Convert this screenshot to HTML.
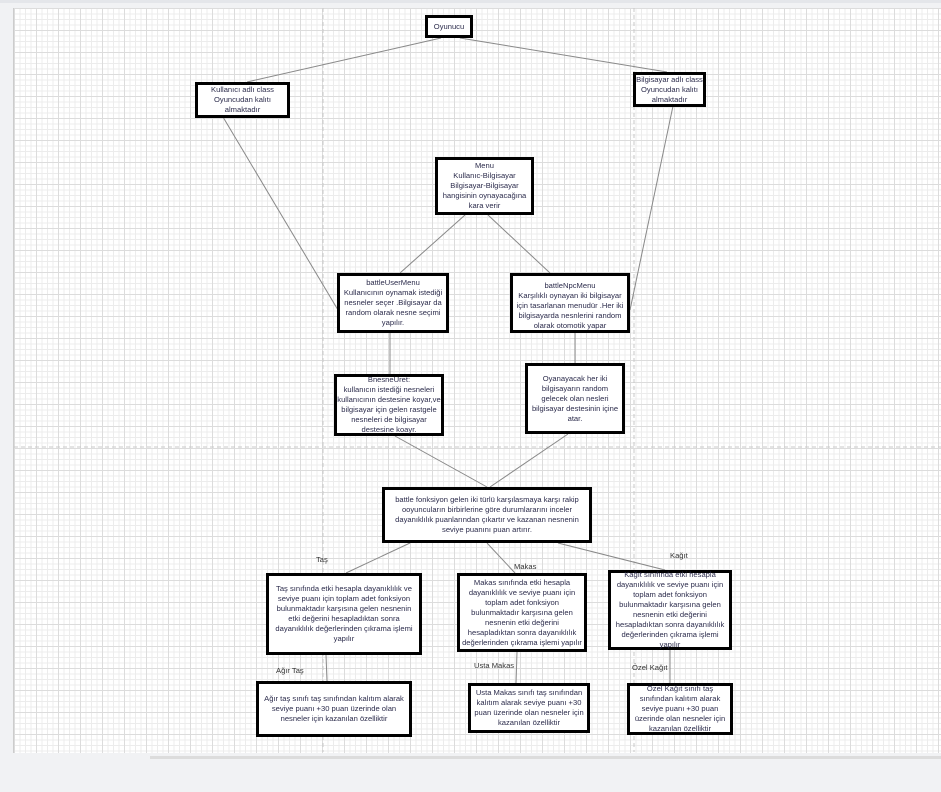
<!DOCTYPE html>
<html><head><meta charset="utf-8"><style>
html,body{margin:0;padding:0;width:941px;height:792px;overflow:hidden;background:#f1f2f4;font-family:"Liberation Sans",sans-serif}
#c{position:absolute;left:13px;top:8px;width:928px;height:745px;background-color:#fff;
background-image:linear-gradient(#dcdcdc 1px,transparent 1px),linear-gradient(90deg,#dcdcdc 1px,transparent 1px),linear-gradient(#ececec 1px,transparent 1px),linear-gradient(90deg,#ececec 1px,transparent 1px);
background-size:22px 22px,22px 22px,5.5px 5.5px,5.5px 5.5px;border-left:1px solid #ccc}
.b{position:absolute;box-sizing:border-box;border:3px solid #000;background:#fff;display:flex;align-items:center;justify-content:center;text-align:center;font-size:7.6px;line-height:10px;color:#2c2c4c;white-space:nowrap}
.l{position:absolute;font-size:7.6px;color:#333}
svg{position:absolute;left:0;top:0}
#sb{position:absolute;left:150px;top:756px;width:791px;height:3px;background:#dcdcdc}
#tb{position:absolute;left:0;top:0;width:941px;height:3px;background:#e4e6ea}
</style></head><body>
<div id="tb"></div>
<div id="c"></div>
<div id="sb"></div>
<svg width="941" height="792">
<g stroke="#c8c8c8" stroke-dasharray="4,3" stroke-width="1">
<line x1="323" y1="8" x2="323" y2="752"/><line x1="634" y1="8" x2="634" y2="752"/><line x1="14" y1="447" x2="941" y2="447"/>
</g>
<g stroke="#888" stroke-width="1">
<line x1="441" y1="38" x2="247" y2="82"/><line x1="460" y1="38" x2="667" y2="72"/>
<line x1="223" y1="117" x2="338" y2="310"/><line x1="673" y1="106" x2="630" y2="310"/>
<line x1="465" y1="215" x2="400" y2="273"/><line x1="488" y1="215" x2="550" y2="273"/>
<line x1="390" y1="333" x2="390" y2="374"/><line x1="575" y1="333" x2="575" y2="363"/>
<line x1="395" y1="436" x2="487" y2="487"/><line x1="568" y1="434" x2="490" y2="487"/>
<line x1="410" y1="543" x2="346" y2="573"/><line x1="487" y1="543" x2="515" y2="573"/>
<line x1="558" y1="543" x2="665" y2="570"/>
<line x1="326" y1="655" x2="327" y2="681"/><line x1="517" y1="652" x2="516" y2="683"/><line x1="670" y1="650" x2="670" y2="683"/>
</g></svg>
<div class="b" style="left:425px;top:15px;width:48px;height:23px">Oyunucu</div>
<div class="b" style="left:195px;top:82px;width:95px;height:36px">Kullanıcı adlı class<br>Oyuncudan kalıtı<br>almaktadır</div>
<div class="b" style="left:633px;top:72px;width:73px;height:35px">Bilgisayar adlı class<br>Oyuncudan kalıtı<br>almaktadır</div>
<div class="b" style="left:435px;top:157px;width:99px;height:58px">Menu<br>Kullanıc-Bilgisayar<br>Bilgisayar-Bilgisayar<br>hangisinin oynayacağına<br>kara verir</div>
<div class="b" style="left:337px;top:273px;width:112px;height:60px">battleUserMenu<br>Kullanıcının oynamak istediği<br>nesneler seçer .Bilgisayar da<br>random olarak nesne seçimi<br>yapılır.</div>
<div class="b" style="left:510px;top:273px;width:120px;height:60px;align-items:flex-start;padding-top:5px">battleNpcMenu<br>Karşılıklı oynayan iki bilgisayar<br>için tasarlanan menudür .Her iki<br>bilgisayarda nesnlerini random<br>olarak otomotik yapar</div>
<div class="b" style="left:334px;top:374px;width:110px;height:62px">BnesneUret:<br>kullanıcın istediği nesneleri<br>kullanıcının destesine koyar,ve<br>bilgisayar için gelen rastgele<br>nesneleri de bilgisayar<br>destesine koayr.</div>
<div class="b" style="left:525px;top:363px;width:100px;height:71px">Oyanayacak her iki<br>bilgisayarın random<br>gelecek olan nesleri<br>bilgisayar destesinin içine<br>atar.</div>
<div class="b" style="left:382px;top:487px;width:210px;height:56px">battle fonksiyon gelen iki türlü karşılasmaya karşı rakip<br>ooyuncuların birbirlerine göre durumlararını inceler<br>dayanıklılık puanlarından çıkartır ve kazanan nesnenin<br>seviye puanını  puan artırır.</div>
<div class="b" style="left:266px;top:573px;width:156px;height:82px">Taş sınıfında etki hesapla dayanıklılık ve<br>seviye puanı için toplam  adet fonksiyon<br>bulunmaktadır karşısına gelen nesnenin<br>etki değerini hesapladıktan sonra<br>dayanıklılık değerlerinden çıkrama işlemi<br>yapılır</div>
<div class="b" style="left:457px;top:573px;width:130px;height:79px">Makas sınıfında etki hesapla<br>dayanıklılık ve seviye puanı için<br>toplam  adet fonksiyon<br>bulunmaktadır karşısına gelen<br>nesnenin etki değerini<br>hesapladıktan sonra dayanıklılık<br>değerlerinden çıkrama işlemi yapılır</div>
<div class="b" style="left:608px;top:570px;width:124px;height:80px">Kağıt sınıfında etki hesapla<br>dayanıklılık ve seviye puanı için<br>toplam  adet fonksiyon<br>bulunmaktadır karşısına gelen<br>nesnenin etki değerini<br>hesapladıktan sonra dayanıklılık<br>değerlerinden çıkrama işlemi<br>yapılır</div>
<div class="b" style="left:256px;top:681px;width:156px;height:56px">Ağır taş sınıfı taş sınıfından kalıtım alarak<br>seviye puanı +30 puan üzerinde olan<br>nesneler için kazanılan özelliktir</div>
<div class="b" style="left:468px;top:683px;width:122px;height:50px">Usta Makas sınıfı taş sınıfından<br>kalıtım alarak seviye puanı +30<br>puan üzerinde olan nesneler için<br>kazanılan özelliktir</div>
<div class="b" style="left:627px;top:683px;width:106px;height:52px">Özel Kağıt sınıfı taş<br>sınıfından kalıtım alarak<br>seviye puanı +30 puan<br>üzerinde olan nesneler için<br>kazanılan özelliktir</div>
<div class="l" style="left:316px;top:555px">Taş</div>
<div class="l" style="left:514px;top:562px">Makas</div>
<div class="l" style="left:670px;top:551px">Kağıt</div>
<div class="l" style="left:276px;top:666px">Ağır Taş</div>
<div class="l" style="left:474px;top:661px">Usta Makas</div>
<div class="l" style="left:632px;top:663px">Özel Kağıt</div>
</body></html>
